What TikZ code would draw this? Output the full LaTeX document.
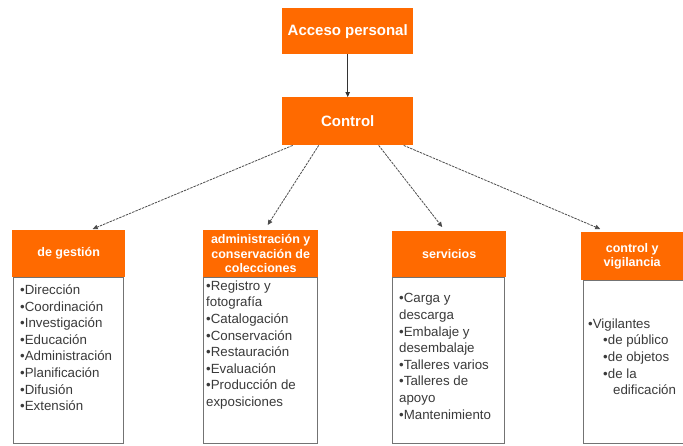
\documentclass[tikz,border=0pt]{standalone}
\usepackage{fontspec}
\setmainfont{Liberation Sans}
\usetikzlibrary{arrows.meta}
\definecolor{org}{HTML}{FF6A00}
\definecolor{txt}{HTML}{3A3A3A}
\tikzset{
  topbox/.style={fill=org, draw=none, text=white, font=\bfseries\fontsize{15}{17}\selectfont, minimum width=131pt, minimum height=46pt, anchor=north west, inner sep=0pt},
  headbox/.style={fill=org, draw=none, text=white, font=\bfseries\fontsize{12.5}{14.5}\selectfont, align=center, minimum height=47pt, anchor=north west, inner sep=0pt},
  bodybox/.style={fill=white, draw=black!55, line width=0.8pt, anchor=north west, inner sep=0pt},
  listtext/.style={anchor=north west, inner sep=0pt, align=left, text=txt, font=\fontsize{13.3}{16.6}\selectfont},
  arr/.style={draw=black!70, line width=0.8pt, dash pattern=on 2.5pt off 1pt, -{Triangle[length=5pt,width=4.5pt]}},
  solidarr/.style={draw=black!80, line width=0.8pt, -{Triangle[length=5pt,width=4.5pt]}}
}
\begin{document}
\begin{tikzpicture}[x=1pt,y=-1pt]
\useasboundingbox (0,0) rectangle (683,445);
\clip (0,0) rectangle (683,445);
\fill[white] (0,0) rectangle (683,445);

% top boxes
\node[topbox] (acc) at (282,8) {Acceso personal};
\node[topbox, minimum height=48pt] (ctrl) at (282,97) {Control};

% bodies
\node[bodybox, minimum width=110pt, minimum height=166pt] (b1) at (13,277) {};
\node[bodybox, minimum width=114pt, minimum height=166pt] (b2) at (203,277) {};
\node[bodybox, minimum width=112pt, minimum height=166pt] (b3) at (392,277) {};
\node[bodybox, minimum width=110pt, minimum height=163pt] (b4) at (583,280) {};

% headers
\node[headbox, minimum width=113pt] (h1) at (12,230) {de gestión};
\node[headbox, minimum width=115pt] (h2) at (203,230) {administración y\\conservación de\\colecciones};
\node[headbox, minimum width=114pt, minimum height=46pt] (h3) at (392,231) {servicios};
\node[headbox, minimum width=102pt, minimum height=48pt] (h4) at (581,232) {control y\\vigilancia};

% lists
\node[listtext] (t1) at (20,284.5) {•Dirección\\•Coordinación\\•Investigación\\•Educación\\•Administración\\•Planificación\\•Difusión\\•Extensión};
\node[listtext] (t2) at (206,280.5) {•Registro y\\fotografía\\•Catalogación\\•Conservación\\•Restauración\\•Evaluación\\•Producción de\\exposiciones};
\node[listtext] (t3) at (399,293.5) {•Carga y\\descarga\\•Embalaje y\\desembalaje\\•Talleres varios\\•Talleres de\\apoyo\\•Mantenimiento};
\node[listtext] (t4) at (588,318.5) {•Vigilantes\\\hspace*{15pt}•de público\\\hspace*{15pt}•de objetos\\\hspace*{15pt}•de la\\\hspace*{25pt}edificación};

% connectors
\draw[solidarr] (acc.south) -- (ctrl.north);
\draw[arr] ([xshift=-55pt]ctrl.south) -- ([xshift=24pt,yshift=1pt]h1.north);
\draw[arr] ([xshift=-29pt]ctrl.south) -- ([xshift=7pt,yshift=5pt]h2.north);
\draw[arr] ([xshift=31pt]ctrl.south) -- ([xshift=-7pt,yshift=4pt]h3.north);
\draw[arr] ([xshift=56pt]ctrl.south) -- ([xshift=-32pt,yshift=3pt]h4.north);
\end{tikzpicture}
\end{document}
